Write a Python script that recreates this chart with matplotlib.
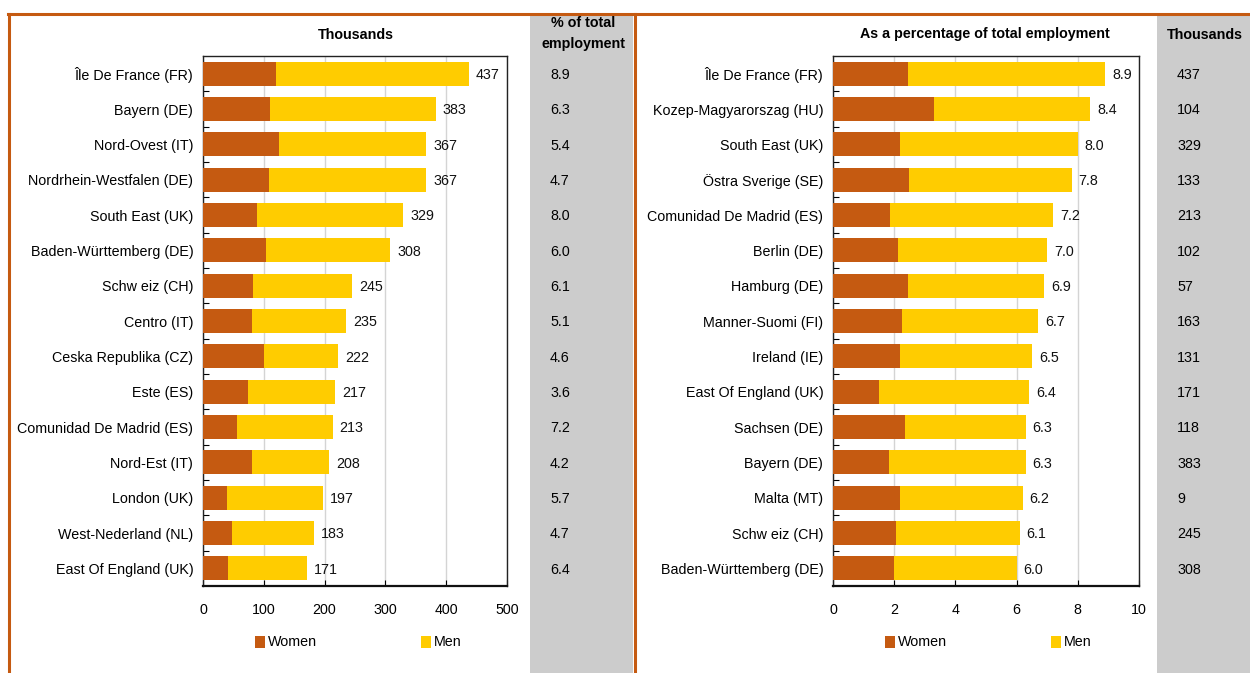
import matplotlib
matplotlib.use("Agg")
import matplotlib.pyplot as plt
from matplotlib.patches import Rectangle
from matplotlib.lines import Line2D
import matplotlib.transforms as mtransforms

plt.rcParams['font.family'] = ['Liberation Sans', 'DejaVu Sans']

# ---------------- data ----------------
left_regions = ["Île De France (FR)", "Bayern (DE)", "Nord-Ovest (IT)", "Nordrhein-Westfalen (DE)",
                "South East (UK)", "Baden-Württemberg (DE)", "Schw eiz (CH)", "Centro (IT)",
                "Ceska Republika (CZ)", "Este (ES)", "Comunidad De Madrid (ES)", "Nord-Est (IT)",
                "London (UK)", "West-Nederland (NL)", "East Of England (UK)"]
left_total = [437, 383, 367, 367, 329, 308, 245, 235, 222, 217, 213, 208, 197, 183, 171]
left_women = [120, 110, 125, 109, 89, 104, 82, 81, 100, 74, 56, 81, 40, 48, 41]
left_pct = ["8.9", "6.3", "5.4", "4.7", "8.0", "6.0", "6.1", "5.1", "4.6", "3.6", "7.2", "4.2", "5.7", "4.7", "6.4"]

right_regions = ["Île De France (FR)", "Kozep-Magyarorszag (HU)", "South East (UK)", "Östra Sverige (SE)",
                 "Comunidad De Madrid (ES)", "Berlin (DE)", "Hamburg (DE)", "Manner-Suomi (FI)",
                 "Ireland (IE)", "East Of England (UK)", "Sachsen (DE)", "Bayern (DE)", "Malta (MT)",
                 "Schw eiz (CH)", "Baden-Württemberg (DE)"]
right_total = [8.9, 8.4, 8.0, 7.8, 7.2, 7.0, 6.9, 6.7, 6.5, 6.4, 6.3, 6.3, 6.2, 6.1, 6.0]
right_women = [2.45, 3.30, 2.19, 2.48, 1.86, 2.12, 2.45, 2.25, 2.19, 1.50, 2.35, 1.83, 2.19, 2.06, 1.99]
right_thousands = ["437", "104", "329", "133", "213", "102", "57", "163", "131", "171", "118", "383", "9", "245", "308"]

left_ticks = [0, 100, 200, 300, 400, 500]
right_ticks = [0, 2, 4, 6, 8, 10]

# ---------------- style ----------------
W, H = 1250, 673
C_WOMEN = "#C55A11"
C_MEN = "#FFCC00"
C_GREY = "#CCCCCC"
C_FRAME = "#C55A11"
FS = 10.3

fig = plt.figure(figsize=(W / 100, H / 100), dpi=100)
fig.patch.set_facecolor("white")


def fx(px):
    return px / W


def fy(py):
    return 1 - py / H


# grey columns
fig.patches.append(Rectangle((fx(530), 0), fx(633) - fx(530), fy(15), transform=fig.transFigure,
                             facecolor=C_GREY, edgecolor="none", zorder=0))
fig.patches.append(Rectangle((fx(1157), 0), fx(1250) - fx(1157), fy(15), transform=fig.transFigure,
                             facecolor=C_GREY, edgecolor="none", zorder=0))

# orange frame
for (x0, y0, x1, y1) in [(8, 14, 1250, 14), (9, 14, 9, 673), (634.5, 14, 634.5, 673)]:
    fig.lines.append(Line2D([fx(x0), fx(x1)], [fy(y0), fy(y1)], transform=fig.transFigure,
                            color=C_FRAME, linewidth=2.2, zorder=1))


def make_panel(axx0, axx1, regions, women, total, xticks, xmax, fmt):
    ax = fig.add_axes([fx(axx0), fy(586), fx(axx1) - fx(axx0), fy(56) - fy(586)])
    n = len(regions)
    ypos = list(range(n))
    men = [t - w for t, w in zip(total, women)]
    ax.barh(ypos, women, height=0.68, color=C_WOMEN, zorder=3, label="Women")
    ax.barh(ypos, men, left=women, height=0.68, color=C_MEN, zorder=3, label="Men")
    for y, t in zip(ypos, total):
        ax.annotate(fmt(t), (t, y), xytext=(5, 0), textcoords="offset points",
                    va="center_baseline", ha="left", fontsize=FS, color="#111111")
    ax.set_xlim(0, xmax)
    ax.set_ylim(n - 0.5, -0.5)
    ax.set_yticks(ypos)
    ax.set_yticklabels(regions, fontsize=FS)
    ax.tick_params(axis="y", which="major", length=0, pad=7)
    ax.set_yticks([i + 0.5 for i in range(n - 1)], minor=True)
    ax.tick_params(axis="y", which="minor", direction="in", length=4, width=0.8)
    ax.set_xticks(xticks)
    ax.set_xticklabels([str(t) for t in xticks], fontsize=FS)
    ax.tick_params(axis="x", direction="in", length=4, width=0.8, pad=12)
    ax.grid(axis="x", color="#D4D4D4", linewidth=1, zorder=0)
    ax.set_axisbelow(True)
    for s in ["top", "right", "left"]:
        ax.spines[s].set_linewidth(1.0)
        ax.spines[s].set_color("#222222")
    ax.spines["bottom"].set_linewidth(1.6)
    ax.spines["bottom"].set_color("#111111")
    return ax


axL = make_panel(203, 507, left_regions, left_women, left_total, left_ticks, 500, lambda v: f"{v:d}")
axR = make_panel(833, 1139, right_regions, right_women, right_total, right_ticks, 10, lambda v: f"{v:.1f}")

# side columns values
trL = mtransforms.blended_transform_factory(fig.transFigure, axL.transData)
for i, v in enumerate(left_pct):
    fig.text(fx(550), i, v, transform=trL, ha="left", va="center_baseline", fontsize=FS)
trR = mtransforms.blended_transform_factory(fig.transFigure, axR.transData)
for i, v in enumerate(right_thousands):
    fig.text(fx(1177), i, v, transform=trR, ha="left", va="center_baseline", fontsize=FS)

# titles
fig.text(fx(356), fy(35), "Thousands", ha="center", va="center", fontsize=FS, fontweight="bold")
fig.text(fx(583), fy(23), "% of total", ha="center", va="center", fontsize=FS, fontweight="bold")
fig.text(fx(583), fy(44), "employment", ha="center", va="center", fontsize=FS, fontweight="bold")
fig.text(fx(985), fy(34), "As a percentage of total employment", ha="center", va="center",
         fontsize=FS, fontweight="bold")
fig.text(fx(1167), fy(35), "Thousands", ha="left", va="center", fontsize=FS, fontweight="bold")

# legends (manual, Excel-like)
for (sqx, label, color) in [(255, "Women", C_WOMEN), (421, "Men", C_MEN),
                            (885, "Women", C_WOMEN), (1051, "Men", C_MEN)]:
    fig.patches.append(Rectangle((fx(sqx), fy(648)), fx(10), 12 / H, transform=fig.transFigure,
                                 facecolor=color, edgecolor="none"))
    fig.text(fx(sqx + 13), fy(642), label, ha="left", va="center", fontsize=FS)

fig.savefig("out.png", dpi=100, facecolor="white")
